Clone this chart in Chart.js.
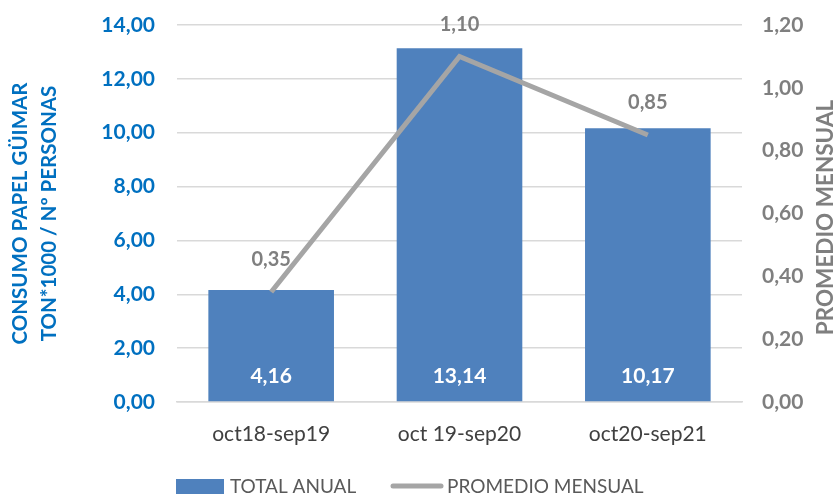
<!DOCTYPE html>
<html>
<head>
<meta charset="utf-8">
<script src="https://cdn.jsdelivr.net/npm/chart.js@4/dist/chart.umd.min.js"></script>
<style>
  html, body { margin: 0; padding: 0; background: #fff; overflow: hidden; }
  #wrap { width: 835px; height: 496px; }
</style>
</head>
<body>
<div id="wrap"><canvas id="consumoChart" width="835" height="496"></canvas></div>
<script>
const periods = ['oct18-sep19', 'oct 19-sep20', 'oct20-sep21'];
const totalAnual = [4.16, 13.14, 10.17];
const promedioMensual = [0.35, 1.10, 0.85];
const leftTicks = [0, 2, 4, 6, 8, 10, 12, 14];
const rightTicks = [0, 0.2, 0.4, 0.6, 0.8, 1.0, 1.2];

const FONT = 'Lato, "Open Sans", sans-serif';
const BLUE = '#4F81BD';
const TITLE_BLUE = '#0070C0';
const GREY_LINE = '#A5A5A5';
const GREY_TEXT = '#7F7F7F';

const fmt = v => v.toFixed(2).replace('.', ',');

// value labels for bars (white, at bottom) and line (grey, above point)
const valueLabels = {
    id: 'valueLabels',
    afterDatasetsDraw(chart) {
        const ctx = chart.ctx;
        ctx.save();
        ctx.textAlign = 'center';
        ctx.textBaseline = 'middle';

        const barMeta = chart.getDatasetMeta(0);
        ctx.font = 'bold 21px ' + FONT;
        ctx.fillStyle = '#ffffff';
        barMeta.data.forEach((bar, i) => {
            ctx.fillText(fmt(totalAnual[i]), bar.x, bar.base - 25);
        });

        const lineMeta = chart.getDatasetMeta(1);
        ctx.font = 'bold 20px ' + FONT;
        ctx.fillStyle = GREY_TEXT;
        lineMeta.data.forEach((pt, i) => {
            ctx.fillText(fmt(promedioMensual[i]), pt.x, pt.y - 32);
        });
        ctx.restore();
    },
    afterDraw(chart) {
        const ctx = chart.ctx;
        const area = chart.chartArea;
        ctx.save();

        // right axis title, reading bottom to top
        ctx.font = 'bold 22.5px ' + FONT;
        ctx.fillStyle = GREY_TEXT;
        ctx.textAlign = 'center';
        ctx.textBaseline = 'middle';
        ctx.translate(826, (area.top + area.bottom) / 2 + 4);
        ctx.rotate(-Math.PI / 2);
        ctx.fillText('PROMEDIO MENSUAL', 0, 0);
        ctx.restore();

        // legend at the bottom
        ctx.save();
        ctx.font = '19px ' + FONT;
        ctx.textBaseline = 'middle';
        ctx.textAlign = 'left';

        ctx.fillStyle = BLUE;
        ctx.fillRect(176, 479, 48, 15);
        ctx.fillStyle = '#595959';
        ctx.fillText('TOTAL ANUAL', 230, 487);

        ctx.strokeStyle = GREY_LINE;
        ctx.lineWidth = 5;
        ctx.lineCap = 'round';
        ctx.beginPath();
        ctx.moveTo(393, 486);
        ctx.lineTo(441, 486);
        ctx.stroke();
        ctx.fillText('PROMEDIO MENSUAL', 447, 487);
        ctx.restore();
    }
};

const ctx = document.getElementById('consumoChart').getContext('2d');
new Chart(ctx, {
    type: 'bar',
    data: {
        labels: periods,
        datasets: [{
            type: 'bar',
            label: 'TOTAL ANUAL',
            data: totalAnual,
            backgroundColor: BLUE,
            yAxisID: 'y',
            barPercentage: 1,
            categoryPercentage: 0.667,
            order: 1
        }, {
            type: 'line',
            label: 'PROMEDIO MENSUAL',
            data: promedioMensual,
            borderColor: GREY_LINE,
            borderWidth: 5,
            pointRadius: 0,
            tension: 0,
            yAxisID: 'y1',
            order: 0
        }]
    },
    options: {
        responsive: false,
        animation: false,
        layout: { padding: { top: 25 } },
        plugins: {
            legend: { display: false },
            tooltip: { enabled: false }
        },
        scales: {
            x: {
                grid: { display: false },
                border: { color: '#D9D9D9', width: 1.5 },
                ticks: {
                    color: '#404040',
                    font: { family: FONT, size: 21 },
                    padding: 12
                },
                afterFit(scale) { scale.height = 94; }
            },
            y: {
                position: 'left',
                min: 0,
                max: 14,
                afterBuildTicks(scale) { scale.ticks = leftTicks.map(v => ({ value: v })); },
                grid: { color: '#D9D9D9', lineWidth: 1.5, drawTicks: false },
                border: { display: false },
                ticks: {
                    color: TITLE_BLUE,
                    font: { family: FONT, size: 21, weight: 'bold' },
                    padding: 22,
                    callback: v => fmt(v)
                },
                title: {
                    display: true,
                    text: ['CONSUMO PAPEL GÜIMAR', 'TON*1000 / Nº PERSONAS'],
                    color: TITLE_BLUE,
                    font: { family: FONT, size: 20.5, weight: 'bold', lineHeight: 1.4 },
                    padding: { top: 6, bottom: 0 }
                },
                afterFit(scale) {
                    scale.width = 177;
                    scale.paddingTop = 0;
                    scale.paddingBottom = 0;
                }
            },
            y1: {
                position: 'right',
                min: 0,
                max: 1.2,
                afterBuildTicks(scale) { scale.ticks = rightTicks.map(v => ({ value: v })); },
                grid: { display: false, drawTicks: false },
                border: { display: false },
                ticks: {
                    color: GREY_TEXT,
                    font: { family: FONT, size: 21, weight: 'bold' },
                    padding: 20,
                    callback: v => fmt(v)
                },
                afterFit(scale) {
                    scale.width = 93;
                    scale.paddingTop = 0;
                    scale.paddingBottom = 0;
                }
            }
        }
    },
    plugins: [valueLabels]
});
</script>
</body>
</html>
